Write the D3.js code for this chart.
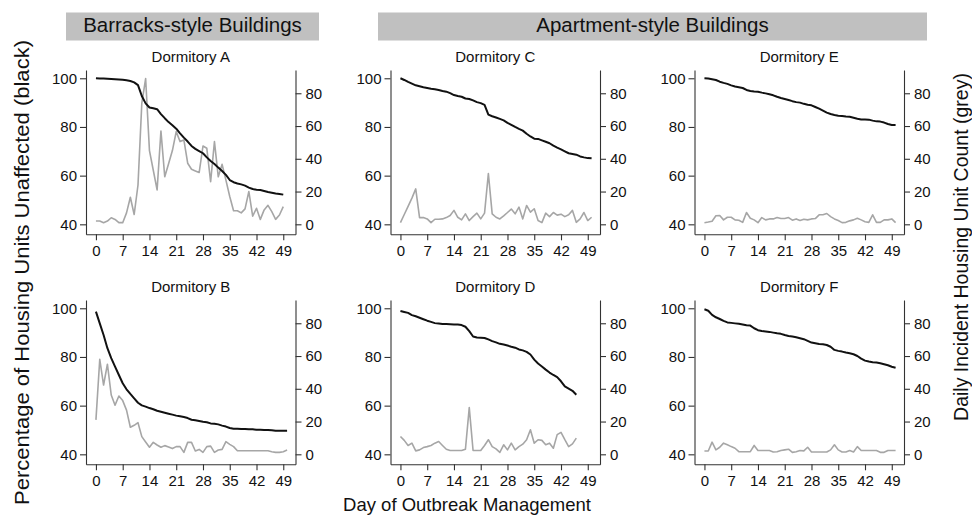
<!DOCTYPE html>
<html>
<head>
<meta charset="utf-8">
<script src="https://cdn.jsdelivr.net/npm/d3@7"></script>
<style>
  body { margin:0; background:#fff; }
  svg text { font-family:"Liberation Sans", Arial, Helvetica, sans-serif; fill:#111; }
</style>
</head>
<body>
<svg id="chart" width="972" height="516"></svg>
<script>
//
//  Dormitory outbreak panels: % units unaffected (black) and daily incident count (grey)
//  index of each array = day of outbreak management
//
const dormA_pct = [100,99.9,99.9,99.8,99.7,99.6,99.5,99.4,99.2,98.9,98.3,97.2,92.7,89.7,88,87.7,87.3,85.3,83.6,82,80.7,79.3,77.4,75.6,74,72.2,71,70.1,69.2,67.5,66,64.8,63.3,61.9,60.3,58.2,57.3,56.8,56.4,55.9,55.1,54.5,54.2,54.1,53.7,53.3,53,52.7,52.5,52.2];
const dormA_cnt = [2,2,1,2,4,3,1,1,7,16.5,6,24,74,89,45,33,21,57,29,37,45,56.6,50.5,51.5,37.3,33.6,32.6,31.6,47.8,46.4,26,50.5,29,36.6,27,17,8.3,8.3,7,9.4,20,5,9.8,3,8.8,11.6,7.7,3,5.7,10.8];

const dormB_pct = [98.6,93.8,89,83.6,79.5,76,72.6,69.2,66.7,64.8,63,61.2,60.1,59.6,59,58.5,57.9,57.5,57.1,56.7,56.3,55.9,55.6,55.3,54.9,54.2,54,53.7,53.4,53.2,52.7,52.6,52.3,51.8,51.4,50.8,50.5,50.5,50.4,50.4,50.3,50.3,50.1,50.1,50,50,49.9,49.7,49.7,49.7,49.7];
const dormB_cnt = [21,58,42.3,55,36.2,30,35.6,32.8,27,16.5,17.7,19.3,10.8,7.5,4.3,7.3,5.7,4.3,5.3,4.5,3.5,4.7,4.7,1.2,7.3,7.3,2,3,1.2,4.7,5,1.2,2.6,3,7.7,6.1,4.7,2.2,2.2,2.2,2.2,2.2,2.2,2.2,2.2,2.2,1.6,1.2,1.2,1.6,2.6];

const dormC_pct = [100,99.3,98.5,97.8,97.1,96.7,96.3,96,95.7,95.5,95.2,94.8,94.5,93.9,93.1,92.7,92.4,91.7,91.5,90.9,90.2,89.8,89.1,85.1,84.4,83.9,83.3,82.7,81.7,80.9,80,79.2,78.5,77.2,76.1,75.2,75.1,74.5,73.9,73.3,72.3,71.5,70.8,70,69.2,68.9,68.6,67.9,67.5,67.2,67.1];
const dormC_cnt = [1,6,11,16,21.6,4.1,4.1,3.3,1,3.1,3.1,3.3,4.1,5.4,8.5,4.3,2.7,6.4,2.3,4.7,6.8,3.3,6.8,31,6.4,4.3,3.3,5.2,7.2,9.3,6.4,10.5,3.3,11.5,7.4,9.5,2.3,1,6.8,4.7,7.2,5.6,6.2,4.7,5.8,8.5,1.2,3.3,7.2,2.3,4.3];

const dormD_pct = [98.9,98.5,98.1,97.2,96.7,96.1,95.5,94.9,94.4,93.9,93.7,93.5,93.5,93.4,93.3,93.3,93.1,92.4,90.6,88.4,88,87.9,87.8,87.2,86.5,86,85.4,85.1,84.7,84.2,83.8,83.1,82.7,82.1,81,78.9,77.3,76.1,74.8,73.6,72.6,71.7,70,67.9,67,66.1,64.5];
const dormD_cnt = [10.9,8.5,5.4,6.8,2.1,2.7,4.1,4.7,5.4,6.8,7.8,5.4,3.1,2.3,2.3,2.3,2.3,3.1,28.5,2.3,2.3,2.3,5.4,8.9,4.7,3.3,1.2,5.8,2.7,6.8,2.7,4.7,6.2,8.9,15,6.8,8.9,8.5,5.8,6.8,3.7,12,13.4,8.9,4.7,6.4,9.9];

const dormE_pct = [100,99.9,99.6,99.3,98.6,98.1,97.7,97.1,96.6,96.3,96,95.2,94.8,94.6,94.5,94.1,93.8,93.4,93,92.4,91.9,91.5,91.1,90.6,90.2,90,89.5,89.1,88.9,88.2,87.5,86.7,85.9,85.3,84.9,84.6,84.5,84.3,84.2,83.8,83.4,83.1,83.1,83,82.6,82.3,82.2,81.8,81.2,80.8,80.8];
const dormE_cnt = [1,1.4,1.9,5.2,5.4,2.7,4.3,4.3,2.7,2.5,1.2,7.2,3.7,2.7,1,4.1,2.7,3.3,3.3,4.1,3.5,3.5,4.1,2.5,3.3,2.3,3.1,2.7,3.3,3.5,5.8,5.8,6.6,4.7,3.3,2.3,1,1.2,2.1,2.7,3.7,2.7,1.6,1.2,5.8,1.2,1.2,2.7,2.7,3.3,1];

const dormF_pct = [99.6,99,97.3,96.3,95.6,94.8,94.2,94,93.8,93.6,93.3,93,92.9,91.8,91,90.7,90.5,90.3,90,89.7,89.5,89,88.6,88.4,88.1,87.7,87.3,86.6,85.9,85.6,85.3,85.2,84.9,84.2,82.9,82.5,82.2,81.8,81.5,81.1,80.4,79.3,78.5,78.1,77.8,77.7,77.4,77,76.6,76,75.6];
const dormF_cnt = [2,2,7.4,2.7,4.3,6.8,5.8,4.7,3.7,1.6,1.6,1.6,1.6,5.4,2.3,2.3,2.3,2.3,1.4,1.6,2.3,2.7,3.1,1.2,1.6,2.3,2.1,4.3,1.4,1.4,1.4,1.4,1.4,2.7,5.8,2.7,1.4,1.4,2.3,1.4,4.7,2.3,2.3,2.3,2.3,2.3,1.2,1.2,2.3,2.3,2.3];

const panelTitles = ["Dormitory A","Dormitory B","Dormitory C","Dormitory D","Dormitory E","Dormitory F"];
const panelPct = [dormA_pct, dormB_pct, dormC_pct, dormD_pct, dormE_pct, dormF_pct];
const panelCnt = [dormA_cnt, dormB_cnt, dormC_cnt, dormD_cnt, dormE_cnt, dormF_cnt];

const dayTicks = [0,7,14,21,28,35,42,49];
const pctTicks = [40,60,80,100];
const cntTicks = [0,20,40,60,80];

const groupLabels = ["Barracks-style Buildings","Apartment-style Buildings"];
const leftLabel = "Percentage of Housing Units Unaffected (black)";
const rightLabel = "Daily Incident Housing Unit Count (grey)";
const bottomLabel = "Day of Outbreak Management";

// layout
let svg = d3.select("#chart");
let colX = [86, 390.5, 694.5];
let rowY = [70, 300];
let pw = 209.5, ph = 164.3;
let axisColor = "#333";

function drawPanel(i) {
  let col = Math.floor(i / 2), row = i % 2;
  let g = svg.append("g")
    .attr("transform", "translate(" + colX[col] + "," + rowY[row] + ")");

  let x = d3.scaleLinear().domain([-2.6, 52.2]).range([0, pw]);
  let yL = d3.scaleLinear().domain([35.9, 103.4]).range([ph, 0]);
  let yR = d3.scaleLinear().domain([-6.1, 94.2]).range([ph, 0]);

  let ax = g.append("g").attr("transform", "translate(0," + ph + ")")
    .call(d3.axisBottom(x).tickValues(dayTicks).tickSize(6).tickPadding(5).tickSizeOuter(0));
  let al = g.append("g")
    .call(d3.axisLeft(yL).tickValues(pctTicks).tickSize(6).tickPadding(3).tickSizeOuter(0));
  let ar = g.append("g").attr("transform", "translate(" + pw + ",0)")
    .call(d3.axisRight(yR).tickValues(cntTicks).tickSize(6).tickPadding(4).tickSizeOuter(0));
  [ax, al, ar].forEach(a => {
    a.selectAll("path, line").attr("stroke", axisColor).attr("stroke-width", 1.1);
    a.selectAll("text").style("font-size", "15px").attr("fill", "#111");
  });

  let cnt = panelCnt[i], pct = panelPct[i];
  g.append("path")
    .datum(cnt)
    .attr("fill", "none")
    .attr("stroke", "#a6a6a6")
    .attr("stroke-width", 1.6)
    .attr("stroke-linejoin", "round")
    .attr("d", d3.line().x((d, k) => x(k)).y(d => yR(d)));
  g.append("path")
    .datum(pct)
    .attr("fill", "none")
    .attr("stroke", "#111")
    .attr("stroke-width", 2)
    .attr("stroke-linejoin", "round")
    .attr("d", d3.line().x((d, k) => x(k)).y(d => yL(d)));

  g.append("text")
    .attr("x", pw / 2)
    .attr("y", -8)
    .attr("text-anchor", "middle")
    .style("font-size", "15px")
    .text(panelTitles[i]);
}

for (let i = 0; i < 6; i++) drawPanel(i);

// grey group headers
let headers = [
  { x0: 66, x1: 319, label: groupLabels[0] },
  { x0: 378, x1: 927, label: groupLabels[1] },
];
headers.forEach(h => {
  svg.append("rect")
    .attr("x", h.x0).attr("y", 12.5)
    .attr("width", h.x1 - h.x0).attr("height", 28)
    .attr("fill", "#c0c0c0");
  svg.append("text")
    .attr("x", (h.x0 + h.x1) / 2).attr("y", 32)
    .attr("text-anchor", "middle")
    .style("font-size", "20.5px")
    .text(h.label);
});

// axis titles
svg.append("text")
  .attr("transform", "translate(29,272.5) rotate(-90)")
  .attr("text-anchor", "middle")
  .attr("textLength", 465)
  .attr("lengthAdjust", "spacingAndGlyphs")
  .style("font-size", "19.5px")
  .text(leftLabel);
svg.append("text")
  .attr("transform", "translate(968,247) rotate(-90)")
  .attr("text-anchor", "middle")
  .style("font-size", "19.5px")
  .text(rightLabel);
svg.append("text")
  .attr("x", 467).attr("y", 511)
  .attr("text-anchor", "middle")
  .style("font-size", "18.5px")
  .text(bottomLabel);
</script>
</body>
</html>
